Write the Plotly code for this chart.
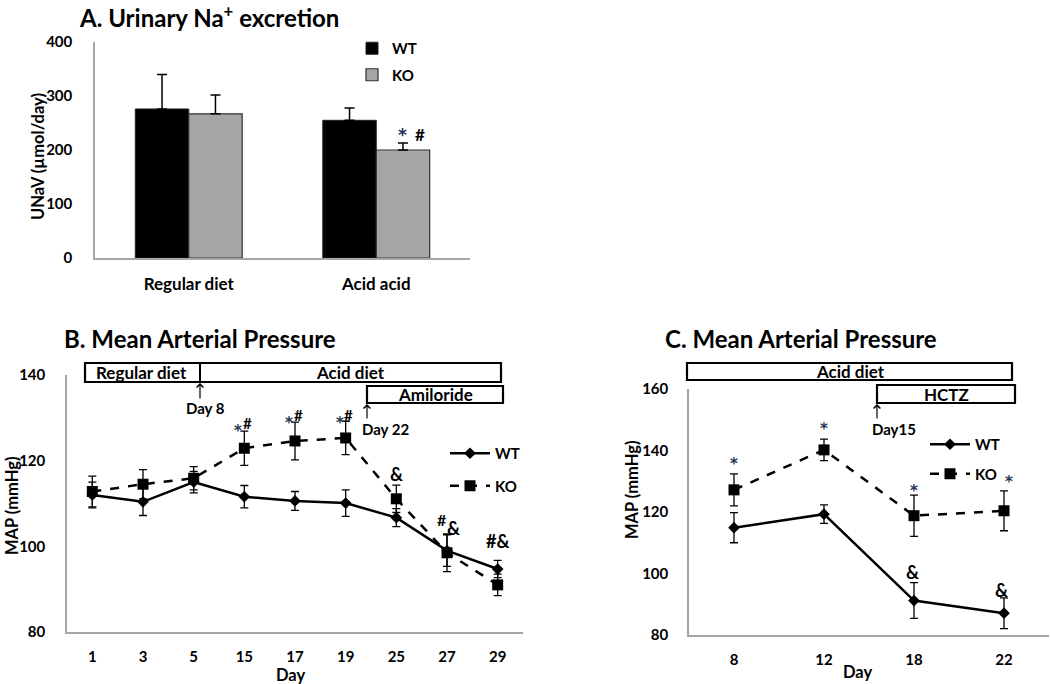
import plotly.graph_objects as go

# Reference canvas is 1050x684; the page body margin is removed so the figure fills the window.
W, H = 1050, 684
OFF = 0

# ---------------- Data ----------------
# Panel A
a_categories = ["Regular diet", "Acid acid"]
a_wt = [276, 255]
a_wt_err = [64, 23]
a_ko = [267, 200]
a_ko_err = [35, 13]

# Panel B
b_days = ["1", "3", "5", "15", "17", "19", "25", "27", "29"]
b_wt = [112.0, 110.4, 115.0, 111.6, 110.6, 110.1, 106.7, 99.0, 94.7]
b_wt_err = [3.0, 3.2, 2.5, 2.6, 2.2, 3.1, 2.1, 3.7, 2.0]
b_ko = [112.8, 114.5, 115.9, 122.9, 124.6, 125.3, 111.1, 98.5, 91.0]
b_ko_err = [3.6, 3.4, 2.7, 4.0, 4.4, 3.9, 3.2, 4.4, 2.5]

# Panel C
c_days = ["8", "12", "18", "22"]
c_wt = [114.9, 119.3, 91.2, 87.1]
c_wt_err = [4.9, 3.0, 5.8, 5.0]
c_ko = [127.2, 140.2, 118.8, 120.4]
c_ko_err = [5.2, 3.5, 6.7, 6.5]

FONT = "Lato"
STARFONT = "DejaVu Sans"
STAR = "#253552"
AXC = "#a6a6a6"

def px(x):
    return min(1.0, max(0.0, (x - OFF) / W))

def py(y):
    return min(1.0, max(0.0, 1 - (y - OFF) / H))

fig = go.Figure()

# ---------------- Panel A bars ----------------
fig.add_trace(go.Bar(
    x=a_categories, y=a_wt, name="WT", marker=dict(color="#000000", line=dict(color="#202020", width=1)),
    error_y=dict(type="data", array=a_wt_err, arrayminus=[0]*len(a_wt_err), symmetric=False,
                 color="#000000", thickness=1.5, width=5),
    xaxis="x", yaxis="y", legend="legend", legendgroup="a1"))
fig.add_trace(go.Bar(
    x=a_categories, y=a_ko, name="KO", marker=dict(color="#a6a6a6", line=dict(color="#303030", width=1.2)),
    error_y=dict(type="data", array=a_ko_err, arrayminus=[0]*len(a_ko_err), symmetric=False,
                 color="#000000", thickness=1.5, width=5),
    xaxis="x", yaxis="y", legend="legend", legendgroup="a2"))

# ---------------- Panel B lines ----------------
fig.add_trace(go.Scatter(
    x=b_days, y=b_wt, name="WT", mode="lines+markers",
    line=dict(color="#000000", width=2.5),
    marker=dict(symbol="diamond", size=9, color="#000000"),
    error_y=dict(type="data", array=b_wt_err, color="#000000", thickness=1.3, width=4),
    xaxis="x2", yaxis="y2", legend="legend2", legendgroup="b1"))
fig.add_trace(go.Scatter(
    x=b_days, y=b_ko, name="KO", mode="lines+markers",
    line=dict(color="#000000", width=2.5, dash="dash"),
    marker=dict(symbol="square", size=11, color="#000000"),
    error_y=dict(type="data", array=b_ko_err, color="#000000", thickness=1.3, width=4),
    xaxis="x2", yaxis="y2", legend="legend2", legendgroup="b2"))

# ---------------- Panel C lines ----------------
fig.add_trace(go.Scatter(
    x=c_days, y=c_wt, name="WT", mode="lines+markers",
    line=dict(color="#000000", width=2.5),
    marker=dict(symbol="diamond", size=9, color="#000000"),
    error_y=dict(type="data", array=c_wt_err, color="#000000", thickness=1.3, width=4),
    xaxis="x3", yaxis="y3", legend="legend3", legendgroup="c1"))
fig.add_trace(go.Scatter(
    x=c_days, y=c_ko, name="KO", mode="lines+markers",
    line=dict(color="#000000", width=2.5, dash="dash"),
    marker=dict(symbol="square", size=11, color="#000000"),
    error_y=dict(type="data", array=c_ko_err, color="#000000", thickness=1.3, width=4),
    xaxis="x3", yaxis="y3", legend="legend3", legendgroup="c2"))

numfont = dict(family=FONT, size=15, color="#000000", weight="bold")
catfont = dict(family=FONT, size=17, color="#000000", weight="bold")
labfont = dict(family=FONT, size=16.5, color="#000000", weight="bold")

def xax(domain, anchor, cats, tf):
    return dict(domain=domain, anchor=anchor, type="category", categoryorder="array", categoryarray=cats,
                range=[-0.5, len(cats) - 0.5], showline=True, linecolor=AXC, linewidth=1.5,
                showgrid=False, ticks="", tickfont=tf, zeroline=False, fixedrange=True,
                ticklabelstandoff=10, automargin=False)

def yax(domain, anchor, rng, dtick, standoff):
    return dict(domain=domain, anchor=anchor, range=rng, dtick=dtick, showline=True, linecolor=AXC,
                linewidth=1.5, showgrid=False, ticks="", tickfont=numfont, zeroline=False,
                ticklabelstandoff=standoff, automargin=False)

legfont = dict(family=FONT, size=15, color="#000000", weight="bold")

fig.update_layout(
    width=W, height=H, margin=dict(l=0, r=0, t=0, b=0, pad=0, autoexpand=False),
    paper_bgcolor="white", plot_bgcolor="white",
    barmode="group", bargap=0.43, bargroupgap=0,
    font=dict(family=FONT, color="#000000"),
    xaxis=xax([px(95), px(470)], "y", a_categories, catfont),
    yaxis=yax([py(258), py(42)], "x", [0, 400], 100, 18),
    xaxis2=xax([px(67), px(523)], "y2", b_days, numfont),
    yaxis2=yax([py(632), py(375)], "x2", [80, 140], 20, 17),
    xaxis3=xax([px(689), px(1049)], "y3", c_days, numfont),
    yaxis3=yax([py(635), py(389)], "x3", [80, 160], 20, 16),
    legend=dict(x=px(352), y=py(32), xanchor="left", yanchor="top", bgcolor="rgba(0,0,0,0)",
                font=legfont, itemwidth=30, tracegroupgap=4, traceorder="grouped"),
    legend2=dict(x=px(445), y=py(437), xanchor="left", yanchor="top", bgcolor="rgba(0,0,0,0)",
                 font=legfont, itemwidth=40, tracegroupgap=10, traceorder="grouped"),
    legend3=dict(x=px(925), y=py(428), xanchor="left", yanchor="top", bgcolor="rgba(0,0,0,0)",
                 font=legfont, itemwidth=40, tracegroupgap=7, traceorder="grouped"),
)

ann = []

def ptext(text, x, y, font, xanchor="center", yanchor="middle", angle=0):
    ann.append(dict(text=text, x=px(x), y=py(y), xref="paper", yref="paper", xanchor=xanchor,
                    yanchor=yanchor, textangle=angle, showarrow=False, font=font))

TF = dict(family=FONT, size=24, weight="bold")
# Titles
ptext("A. Urinary Na<sup>+</sup> excretion", 77, 16, TF, xanchor="left")
ptext("B. Mean Arterial Pressure", 62, 338, TF, xanchor="left")
ptext("C. Mean Arterial Pressure", 663, 338, TF, xanchor="left")
# Axis titles
ptext("UNaV (µmol/day)", 38, 157, labfont, angle=-90)
ptext("MAP (mmHg)", 12, 506, labfont, angle=-90)
ptext("MAP (mmHg)", 632, 490, labfont, angle=-90)
ptext("Day", 290, 675, labfont)
ptext("Day", 857, 672, labfont)

# Significance marks (x given as category index)
def mark(text, xr, yr, x, y, color="#000000", size=17, xshift=0, family=FONT):
    ann.append(dict(text=text, x=x, y=y, xref=xr, yref=yr, showarrow=False, xshift=xshift,
                    xanchor="center", yanchor="middle",
                    font=dict(family=family, size=size, color=color, weight="bold")))

bi = {d: i for i, d in enumerate(b_days)}
ci = {d: i for i, d in enumerate(c_days)}

# Panel A (over the KO bar of the acid group)
mark("*", "x", "y", 1, 228, color=STAR, size=17, xshift=26, family=STARFONT)
mark("#", "x", "y", 1, 228, size=17, xshift=44)

# Panel B
for d, yv in [("15", 128.5), ("17", 130.5), ("19", 130.5)]:
    mark("*", "x2", "y2", bi[d], yv - 1.6, color=STAR, size=15, xshift=-6, family=STARFONT)
    mark("#", "x2", "y2", bi[d], yv + 0.2, size=15, xshift=3)
mark("&", "x2", "y2", bi["25"], 117.0, size=18)
mark("#", "x2", "y2", bi["27"], 106.3, size=16, xshift=-5)
mark("&", "x2", "y2", bi["27"], 104.2, size=18, xshift=6)
mark("#&", "x2", "y2", bi["29"], 101.2, size=18)

# Panel C
for d, yv in [("8", 135.7), ("12", 147.0), ("18", 126.7), ("22", 129.7)]:
    mark("*", "x3", "y3", ci[d], yv, color=STAR, size=15, xshift=5 if d == "22" else 0, family=STARFONT)
mark("&", "x3", "y3", ci["18"], 100.5, size=18, xshift=-2)
mark("&", "x3", "y3", ci["22"], 94.5, size=18, xshift=-3)

# Box labels
BF = dict(family=FONT, size=17, weight="bold")
ptext("Regular diet", 141, 372, BF)
ptext("Acid diet", 350, 372, BF)
ptext("Amiloride", 435, 394, BF)
ptext("Acid diet", 850, 371, BF)
ptext("HCTZ", 946, 394, BF)

# Arrows
def arrow(text, x, ytip, ytail, tx, ty):
    ann.append(dict(x=px(x), y=py(ytip), ax=0, ay=ytail - ytip, xref="paper", yref="paper",
                    axref="pixel", ayref="pixel", text="", showarrow=True, arrowhead=4,
                    arrowsize=1.1, arrowwidth=1.2, arrowcolor="#000000"))
    ptext(text, tx, ty, dict(family=FONT, size=15, weight="bold"), xanchor="left")

arrow("Day 8", 200, 383, 400, 184, 408)
arrow("Day 22", 367, 404, 420, 360, 429)
arrow("Day15", 877, 404, 420, 870, 429)

fig.update_layout(annotations=ann)

# Rectangles (timeline boxes)
shapes = []
def rect(x0, y0, x1, y1):
    shapes.append(dict(type="rect", xref="paper", yref="paper", x0=px(x0), x1=px(x1), y0=py(y1), y1=py(y0),
                       line=dict(color="#000000", width=2.2), fillcolor="rgba(0,0,0,0)"))

rect(85, 363, 501, 382)
shapes.append(dict(type="line", xref="paper", yref="paper", x0=px(200), x1=px(200), y0=py(363), y1=py(382),
                   line=dict(color="#000000", width=2)))
rect(367, 386, 503, 403)
rect(687, 363, 1012, 380)
rect(877, 385, 1015, 403)
fig.update_layout(shapes=shapes)

fig.write_html("out.html", config={"displayModeBar": False},
               post_script="document.body.style.margin='0px';document.body.style.overflow='hidden';")
